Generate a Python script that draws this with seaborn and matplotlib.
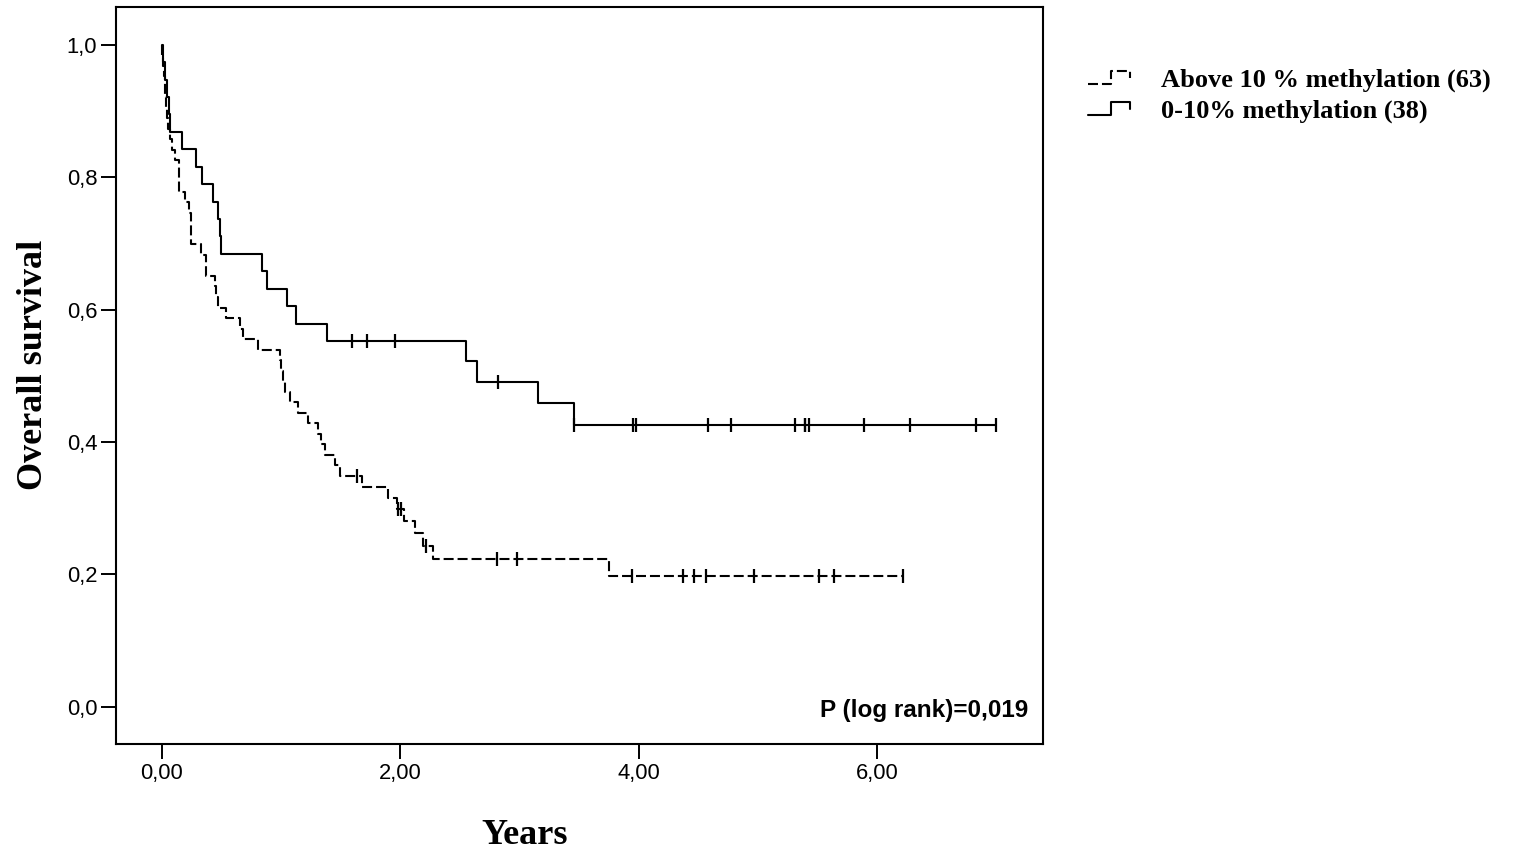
import numpy as np
import pandas as pd
import matplotlib
matplotlib.use("Agg")
import matplotlib.pyplot as plt
import seaborn as sns
from matplotlib.legend_handler import HandlerBase
from matplotlib.lines import Line2D

# ---------------- data ----------------
group_labels = ["Above 10 % methylation (63)", "0-10% methylation (38)"]

# Above 10 % methylation: death times and censoring times (years)
high_death = [0.005, 0.012, 0.018, 0.025, 0.032, 0.040, 0.048, 0.056, 0.066,
              0.085, 0.112, 0.148, 0.148, 0.148, 0.196, 0.23,
              0.249, 0.249, 0.249, 0.333, 0.37, 0.372,
              0.445, 0.458, 0.47, 0.54, 0.655, 0.68, 0.81,
              0.99, 1.0, 1.02, 1.035, 1.076, 1.146, 1.23,
              1.31, 1.34, 1.37, 1.454, 1.496,
              1.68, 1.90, 1.97, 2.03, 2.126, 2.19, 2.28, 3.75]
high_censor = [1.636, 1.98, 2.006, 2.22, 2.815, 2.98, 3.947, 4.375, 4.465,
               4.563, 4.969, 5.515, 5.636, 6.216]

# 0-10% methylation: death times and censoring times (years)
low_death = [0.011, 0.025, 0.045, 0.061, 0.073, 0.168, 0.286, 0.337, 0.433,
             0.474, 0.487, 0.50, 0.838, 0.88, 1.048, 1.13, 1.39,
             2.555, 2.645, 3.16, 3.456]
low_censor = [1.594, 1.725, 1.958, 2.82, 3.456, 3.952, 3.983, 4.586, 4.773,
              5.314, 5.395, 5.395, 5.431, 5.888, 6.274, 6.832, 7.0]

xtick_values = [0, 2, 4, 6]
xtick_labels = ["0,00", "2,00", "4,00", "6,00"]
ytick_values = [0.0, 0.2, 0.4, 0.6, 0.8, 1.0]
ytick_labels = ["0,0", "0,2", "0,4", "0,6", "0,8", "1,0"]
p_text = "P (log rank)=0,019"


def kaplan_meier(death, censor):
    times = np.array(death + censor, float)
    events = np.array([1] * len(death) + [0] * len(censor))
    s = 1.0
    curve_t, curve_s = [0.0], [1.0]
    for t in np.unique(times[events == 1]):
        at_risk = np.sum(times >= t)
        d = np.sum((times == t) & (events == 1))
        s *= 1 - d / at_risk
        curve_t.append(t)
        curve_s.append(s)
    curve_t.append(times.max())
    curve_s.append(s)
    curve = pd.DataFrame({"time": curve_t, "surv": curve_s})
    cens_s = [curve_s[np.searchsorted(curve_t, c, side="right") - 1] for c in censor]
    cens = pd.DataFrame({"time": censor, "surv": cens_s})
    return curve, cens


# ---------------- style ----------------
sns.set_theme(style="ticks")
plt.rcParams["font.family"] = ["Liberation Sans", "DejaVu Sans"]
plt.rcParams["axes.linewidth"] = 1.5
plt.rcParams["text.color"] = "black"
plt.rcParams["axes.labelcolor"] = "black"
plt.rcParams["xtick.color"] = "black"
plt.rcParams["ytick.color"] = "black"
plt.rcParams["axes.edgecolor"] = "black"

fig = plt.figure(figsize=(15.14, 8.59), dpi=100)
ax = fig.add_axes([116 / 1514, 1 - 744 / 859, 927 / 1514, 737 / 859])

dash_style = (0, (4.8, 1.9))
styles = [dash_style, "-"]
data = [(high_death, high_censor), (low_death, low_censor)]

for (death, censor), ls in zip(data, styles):
    curve, cens = kaplan_meier(death, censor)
    sns.lineplot(data=curve, x="time", y="surv", ax=ax, estimator=None,
                 sort=False, drawstyle="steps-post", color="black",
                 linewidth=1.5, linestyle=ls, legend=False)
    sns.scatterplot(data=cens, x="time", y="surv", ax=ax, marker="|",
                    s=95, color="black", linewidth=1.6, legend=False, zorder=3)

ax.set_xlim(-0.383, 7.393)
ax.set_ylim(-0.056, 1.057)
ax.set_xticks(xtick_values)
ax.set_xticklabels(xtick_labels)
ax.set_yticks(ytick_values)
ax.set_yticklabels(ytick_labels)
ax.tick_params(axis="both", which="major", length=10.5, width=1.4,
               labelsize=15.8, colors="black", pad=3)
for sp in ax.spines.values():
    sp.set_color("black")
    sp.set_linewidth(1.5)

serif = ["Liberation Serif", "DejaVu Serif"]
ax.set_ylabel("Overall survival", family=serif, fontweight="bold",
              fontsize=26, va="center", color="black")
ax.yaxis.set_label_coords(-0.089, 0.515)
ax.set_xlabel("Years", family=serif, fontweight="bold", fontsize=26,
              va="center", color="black")
ax.xaxis.set_label_coords(0.441, -0.124)

ax.text(0.984, 0.045, p_text, transform=ax.transAxes, ha="right",
        va="center", fontsize=17.5, fontweight="bold", color="black")


# ---------------- legend with step-shaped keys ----------------
class StepHandler(HandlerBase):
    def create_artists(self, legend, orig_handle, xdescent, ydescent,
                       width, height, fontsize, trans):
        x0, y0 = -xdescent, -ydescent
        xs = [x0, x0 + 0.55 * width, x0 + 0.55 * width, x0 + width, x0 + width]
        ys = [y0 + 0.15 * height, y0 + 0.15 * height, y0 + 0.85 * height,
              y0 + 0.85 * height, y0 + 0.45 * height]
        line = Line2D(xs, ys)
        line.update_from(orig_handle)
        line.set_transform(trans)
        return [line]


handles = [Line2D([0], [0], color="black", lw=1.5, linestyle=ls) for ls in styles]
leg = ax.legend(handles, group_labels, handler_map={Line2D: StepHandler()},
                loc="upper left", bbox_to_anchor=(1088 / 1514, 1 - 68 / 859),
                bbox_transform=fig.transFigure, frameon=False, borderpad=0,
                borderaxespad=0, handlelength=1.6, handletextpad=1.15,
                labelspacing=0.28,
                prop={"family": serif, "weight": "bold", "size": 19})
for t in leg.get_texts():
    t.set_color("black")

fig.savefig("out.png", dpi=100, facecolor="white")
